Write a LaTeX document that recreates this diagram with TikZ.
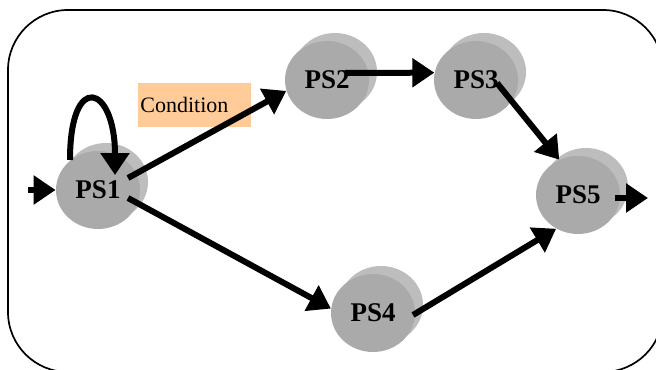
\documentclass[tikz,border=0pt]{standalone}
\usepackage{fontspec}
\setmainfont{Liberation Serif}
\usetikzlibrary{arrows.meta,shapes.geometric,shadows}
\definecolor{discfront}{HTML}{AAAAAA}
\definecolor{discback}{HTML}{BDBDBD}
\definecolor{condfill}{HTML}{FFCC99}

\begin{document}
\begin{tikzpicture}[x=0.5pt, y=-0.5pt,
    disc/.style={ellipse, fill=discfront, minimum width=42pt, minimum height=39pt, inner sep=0pt,
        general shadow={fill=discback, shadow xshift=4pt, shadow yshift=4pt},
        font=\fontsize{13.5}{15}\selectfont\bfseries},
    cond/.style={fill=condfill, text width=54.5pt, inner xsep=1pt, minimum height=22pt,
        align=left, font=\fontsize{11}{13}\selectfont},
    arr/.style={line width=3pt, -{Triangle[length=11pt, width=14pt]}}]
    \useasboundingbox (0,0) rectangle (656,369);
    % OUTER FRAME
    \draw[line width=0.85pt, rounded corners=30pt] (8,10) rectangle (663,372);
    % PROCESS STATES
    \node[disc] (d1) at (98,190) {PS1};
    \node[disc] (d2) at (327,80) {PS2};
    \node[disc] (d3) at (476,80) {PS3};
    \node[disc] (d4) at (373,313) {PS4};
    \node[disc] (d5) at (578,195) {PS5};
    % CONDITION LABEL
    \node[cond, anchor=north west] (cond) at (138,83) {Condition};
    % ENTRY AND EXIT
    \coordinate (in) at (28,190);
    \coordinate (out) at (648,198);
    \draw[arr] (in) -- (d1.180);
    \draw[arr] ([shift={(37,3)}]d5.center) -- (out);
    % SELF LOOP
    \draw[arr] ([shift={(-28,-30)}]d1.center) .. controls +(0,-90) and +(0,-90) .. ([shift={(17,-15)}]d1.center);
    % TRANSITIONS
    \draw[arr] ([shift={(30,-12)}]d1.center) -- (d2.195);
    \draw[arr] ([shift={(30,8)}]d1.center) -- (d4.174);
    \draw[arr] ([shift={(18,-7)}]d2.center) -- (d3.170);
    \draw[arr] ([shift={(21,3)}]d3.center) -- (d5.118);
    \draw[arr] ([shift={(40,2)}]d4.center) -- (d5.237);
\end{tikzpicture}
\end{document}
